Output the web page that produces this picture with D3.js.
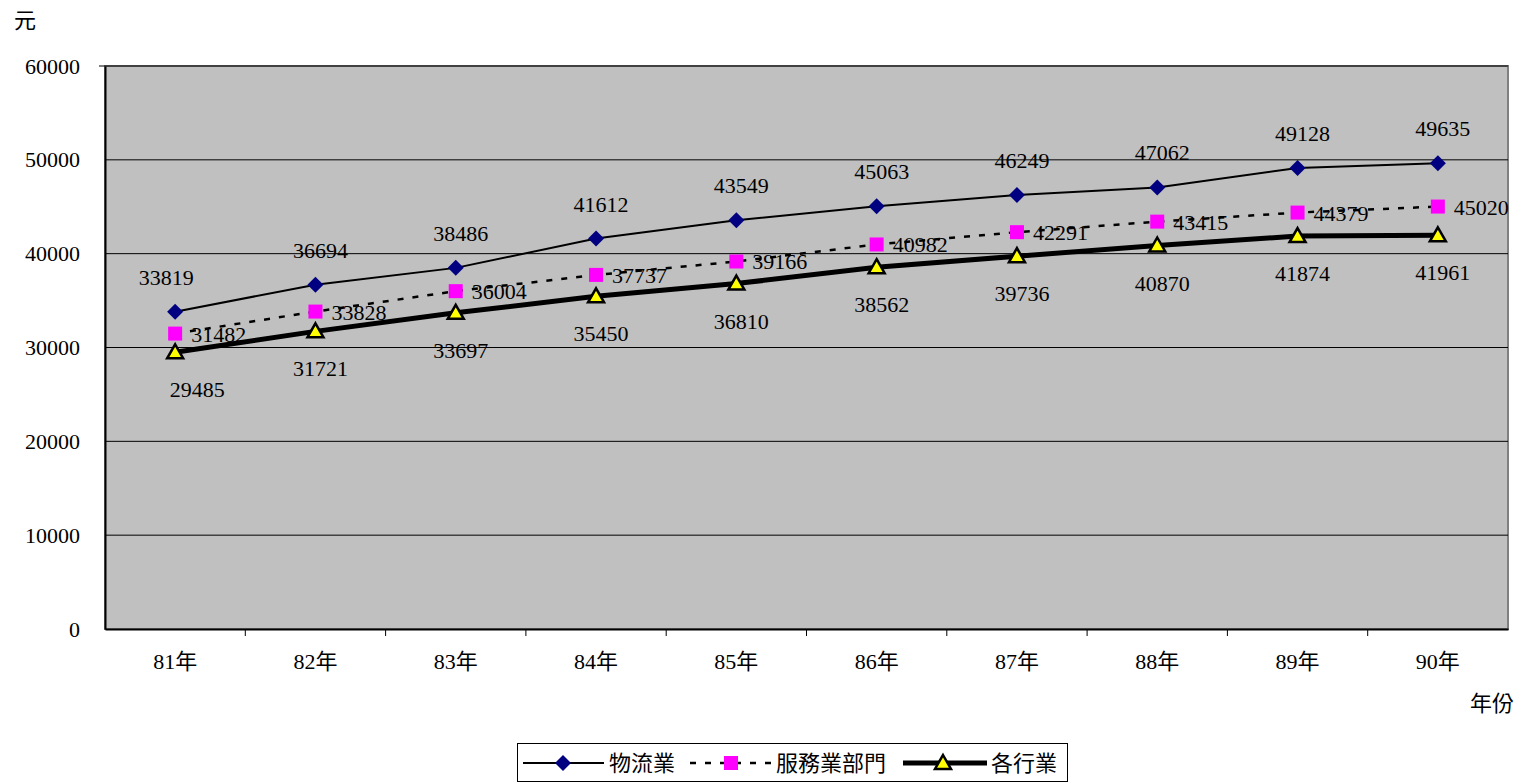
<!DOCTYPE html>
<html><head><meta charset="utf-8">
<script src="https://cdn.jsdelivr.net/npm/d3@7"></script>
<style>
body{margin:0;background:#fff;}
svg text{fill:#000;}
</style></head>
<body><svg id="c" width="1520" height="784"></svg>
<script>
const categories = ["81年","82年","83年","84年","85年","86年","87年","88年","89年","90年"];
const logistics = [33819,36694,38486,41612,43549,45063,46249,47062,49128,49635];
const services = [31482,33828,36004,37737,39166,40982,42291,43415,44379,45020];
const allIndustries = [29485,31721,33697,35450,36810,38562,39736,40870,41874,41961];
const yTicks = [0,10000,20000,30000,40000,50000,60000];
const seriesNames = ["物流業","服務業部門","各行業"];

const FONT = "'Times New Roman', 'Liberation Serif', 'Noto Sans CJK TC', serif";
const svg = d3.select("#c").style("font-family",FONT);
const L=105,R=1508,T=66,B=629;
const x = d3.scaleBand().domain(categories).range([L,R]);
const y = d3.scaleLinear().domain([0,60000]).range([B,T]);
const cx = c => x(c)+x.bandwidth()/2;

svg.append("rect").attr("x",L).attr("y",T).attr("width",R-L).attr("height",B-T)
  .attr("fill","#c0c0c0").attr("stroke","#808080").attr("stroke-width",2);

svg.append("g").selectAll("line").data(yTicks.filter(d=>d>0)).join("line")
  .attr("x1",L).attr("x2",R).attr("y1",d=>y(d)).attr("y2",d=>y(d))
  .attr("stroke","#000").attr("stroke-width",1);

const ya = svg.append("g").attr("transform",`translate(${L},0)`)
  .call(d3.axisLeft(y).tickValues(yTicks).tickSize(0).tickPadding(25).tickFormat(d=>String(d)));
ya.attr("font-family",null);
ya.select(".domain").attr("stroke","#000").attr("stroke-width",2);
ya.selectAll("text").attr("font-size",22).style("font-family",FONT);
const xa = svg.append("g").attr("transform",`translate(0,${B})`)
  .call(d3.axisBottom(x).tickSize(0).tickPadding(24));
xa.attr("font-family",null);
xa.select(".domain").attr("stroke","#000").attr("stroke-width",2);
xa.selectAll("text").attr("font-size",22).style("font-family",FONT);
svg.append("g").selectAll("line").data(categories.slice(1)).join("line")
  .attr("x1",d=>x(d)).attr("x2",d=>x(d)).attr("y1",B).attr("y2",B+7)
  .attr("stroke","#000").attr("stroke-width",1);
svg.append("line").attr("x1",L-6).attr("x2",L).attr("y1",T).attr("y2",T).attr("stroke","#000");

svg.append("text").attr("x",14).attr("y",28).attr("font-size",22).text("元");
svg.append("text").attr("x",1470).attr("y",711).attr("font-size",22).text("年份");

const line = d3.line().x((d,i)=>cx(categories[i])).y(d=>y(d));

function drawDiamond(g,px,py){
  g.append("path").attr("d",`M${px},${py-8}L${px+8},${py}L${px},${py+8}L${px-8},${py}Z`).attr("fill","#000080");
}
function drawSquare(g,px,py){
  g.append("rect").attr("x",px-7).attr("y",py-7).attr("width",14).attr("height",14).attr("fill","#ff00ff");
}
function drawTri(g,px,py){
  g.append("path").attr("d",`M${px},${py-8}L${px+8},${py+6}L${px-8},${py+6}Z`)
   .attr("fill","#ffff00").attr("stroke","#000").attr("stroke-width",2.5).attr("stroke-linejoin","miter");
}

const lab = svg.append("g").attr("font-size",22);
logistics.forEach((v,i)=>lab.append("text").attr("x",cx(categories[i])+(i===0?-9:5)).attr("y",y(v)-27)
  .attr("text-anchor","middle").text(v));
services.forEach((v,i)=>lab.append("text").attr("x",cx(categories[i])+16).attr("y",y(v)+8)
  .attr("text-anchor","start").text(v));
allIndustries.forEach((v,i)=>lab.append("text").attr("x",cx(categories[i])+(i===0?22:5)).attr("y",y(v)+45)
  .attr("text-anchor","middle").text(v));

svg.append("path").datum(services).attr("d",line).attr("fill","none")
  .attr("stroke","#000").attr("stroke-width",2.5).attr("stroke-dasharray","6,9");
svg.append("path").datum(logistics).attr("d",line).attr("fill","none")
  .attr("stroke","#000").attr("stroke-width",2);
svg.append("path").datum(allIndustries).attr("d",line).attr("fill","none")
  .attr("stroke","#000").attr("stroke-width",5);

const mk = svg.append("g");
logistics.forEach((v,i)=>drawDiamond(mk,cx(categories[i]),y(v)));
services.forEach((v,i)=>drawSquare(mk,cx(categories[i]),y(v)));
allIndustries.forEach((v,i)=>drawTri(mk,cx(categories[i]),y(v)));

const lg = svg.append("g");
lg.append("rect").attr("x",517.5).attr("y",743.5).attr("width",550).attr("height",38)
  .attr("fill","#fff").attr("stroke","#000").attr("stroke-width",1);
const ly = 763;
lg.append("line").attr("x1",523).attr("x2",604).attr("y1",ly).attr("y2",ly).attr("stroke","#000").attr("stroke-width",2);
drawDiamond(lg,563,ly);
lg.append("text").attr("x",609).attr("y",ly+8).attr("font-size",22).text(seriesNames[0]);
lg.append("line").attr("x1",690).attr("x2",772).attr("y1",ly).attr("y2",ly).attr("stroke","#000").attr("stroke-width",2.5).attr("stroke-dasharray","6,9");
drawSquare(lg,731,ly);
lg.append("text").attr("x",776).attr("y",ly+8).attr("font-size",22).text(seriesNames[1]);
lg.append("line").attr("x1",903).attr("x2",987).attr("y1",ly).attr("y2",ly).attr("stroke","#000").attr("stroke-width",5);
drawTri(lg,943,ly);
lg.append("text").attr("x",991).attr("y",ly+8).attr("font-size",22).text(seriesNames[2]);
</script></body></html>
